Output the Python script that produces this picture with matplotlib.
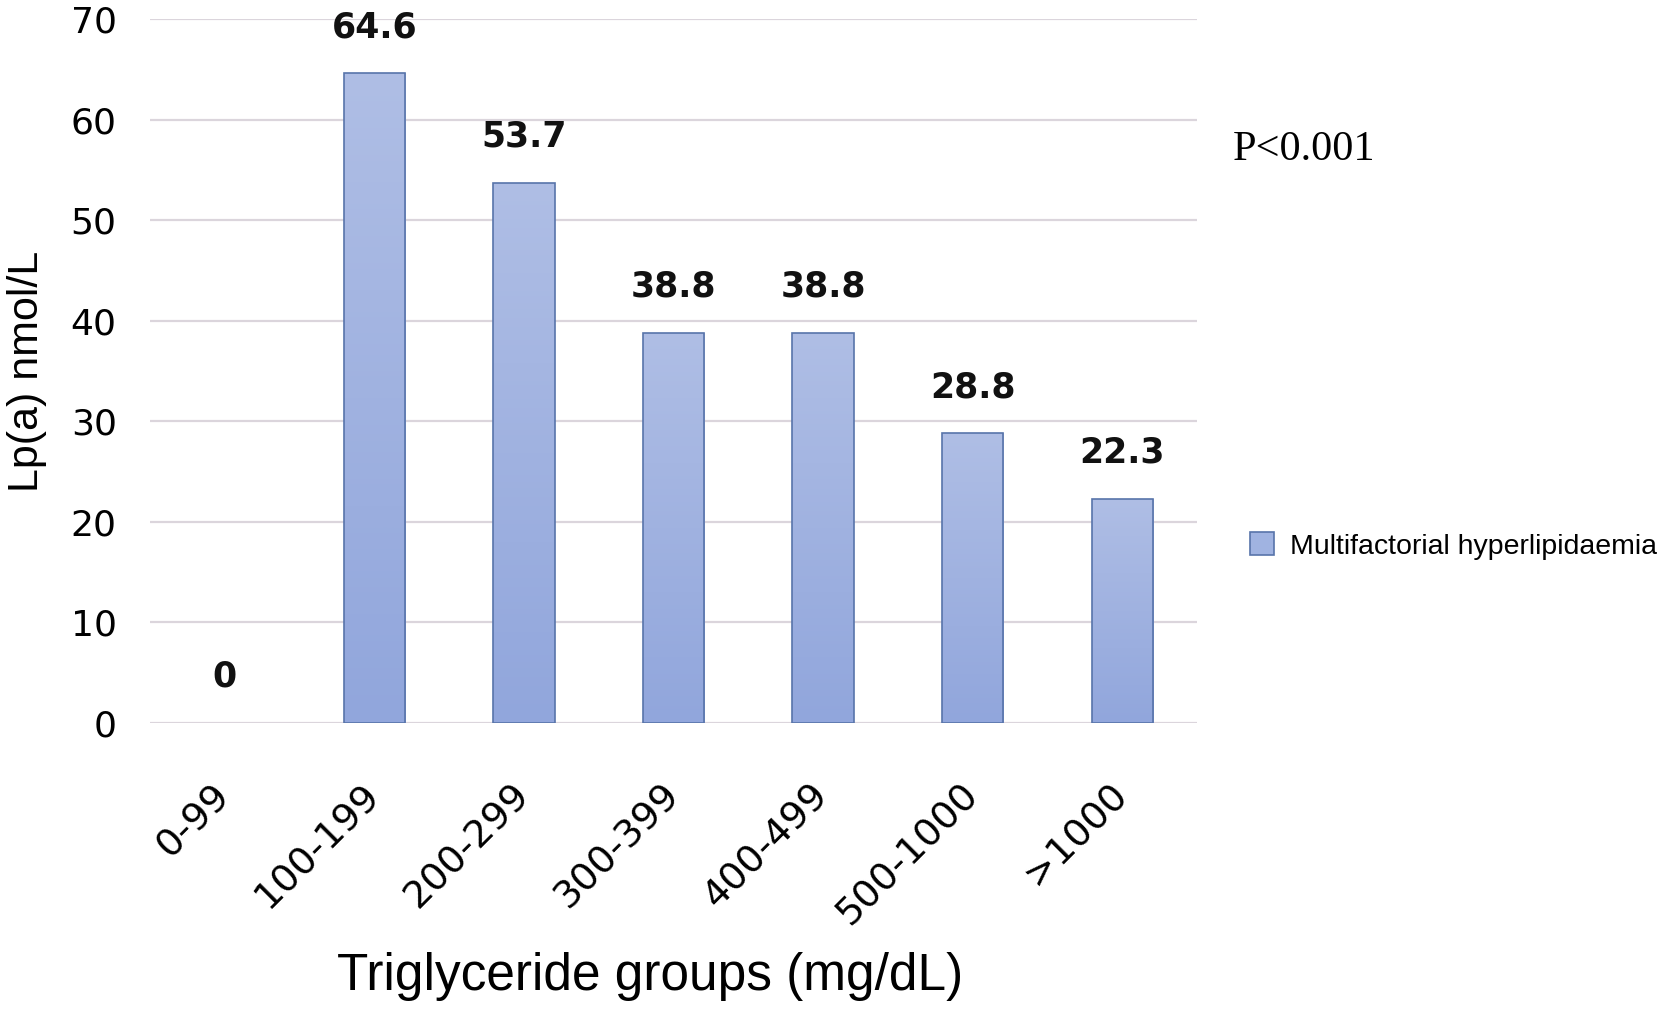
import matplotlib
matplotlib.use('Agg')
import matplotlib.pyplot as plt
import numpy as np
from matplotlib.colors import LinearSegmentedColormap
from matplotlib.patches import Patch

# chart values
groups = ['0-99', '100-199', '200-299', '300-399', '400-499', '500-1000', '>1000']
lpa = [0, 64.6, 53.7, 38.8, 38.8, 28.8, 22.3]
value_labels = ['0', '64.6', '53.7', '38.8', '38.8', '28.8', '22.3']
yticks = [0, 10, 20, 30, 40, 50, 60, 70]
series_name = 'Multifactorial hyperlipidaemia'
p_text = 'P<0.001'

bar_top = '#afbee5'
bar_bottom = '#91a6dc'
bar_edge = '#5874aa'
grad = LinearSegmentedColormap.from_list('bar', [bar_bottom, bar_top])

fig = plt.figure(figsize=(16.75, 10.15), dpi=100)
ax = fig.add_axes([0.0896, 0.2877, 0.625, 0.6936])

x = np.arange(len(groups))
width = 0.41
edges = [bar_edge if v > 0 else 'none' for v in lpa]
bars = ax.bar(x, lpa, width=width, color='none', edgecolor=edges, lw=1.2, zorder=3)

# vertical gradient inside each bar
for xi, v, b in zip(x, lpa, bars):
    if v <= 0:
        continue
    im = ax.imshow(np.linspace(0, 1, 256).reshape(-1, 1), cmap=grad, origin='lower',
                   extent=[xi - width / 2, xi + width / 2, 0, v], aspect='auto', zorder=2)
    im.set_clip_path(b)

# value labels over the bars
for xi, v, lab in zip(x, lpa, value_labels):
    ax.annotate(lab, (xi, v), xytext=(0, 26), textcoords='offset points',
                ha='center', va='baseline', fontsize=25, fontweight='bold',
                family='DejaVu Sans', color='#111111')

ax.set_xlim(-0.5, 6.5)
ax.set_ylim(0, 70)
ax.set_yticks(yticks)
ax.set_yticklabels([str(t) for t in yticks], fontsize=26, family='DejaVu Sans')
ax.set_xticks(x)
ax.set_xticklabels(groups, rotation=45, ha='right', va='center', rotation_mode='anchor',
                   fontsize=27.5, family='DejaVu Sans')
ax.tick_params(axis='y', length=0, pad=24)
ax.tick_params(axis='x', length=0, pad=48)
ax.yaxis.grid(True, color='#dbd5dc', lw=1.6)
ax.set_axisbelow(True)
for s in ax.spines.values():
    s.set_visible(False)

fig.text(27 / 1675, 1 - 371 / 1015, 'Lp(a) nmol/L', rotation=90, ha='center', va='center',
         fontsize=31, family='Liberation Sans')
fig.text(650 / 1675, 1 - 990 / 1015, 'Triglyceride groups (mg/dL)', ha='center', va='baseline',
         fontsize=37, family='Liberation Sans')
fig.text(1304 / 1675, 1 - 160 / 1015, p_text, ha='center', va='baseline',
         fontsize=30.5, family='Liberation Serif')

handle = Patch(facecolor='#a0b3e1', edgecolor=bar_edge, lw=1.2, label=series_name)
fig.legend(handles=[handle], loc='center left', bbox_to_anchor=(1250 / 1675, 1 - 546 / 1015),
           frameon=False, borderpad=0, borderaxespad=0,
           handlelength=0.84, handleheight=0.84, handletextpad=0.55,
           prop={'family': 'Liberation Sans', 'size': 20.5})

fig.savefig('out.png', dpi=100)
